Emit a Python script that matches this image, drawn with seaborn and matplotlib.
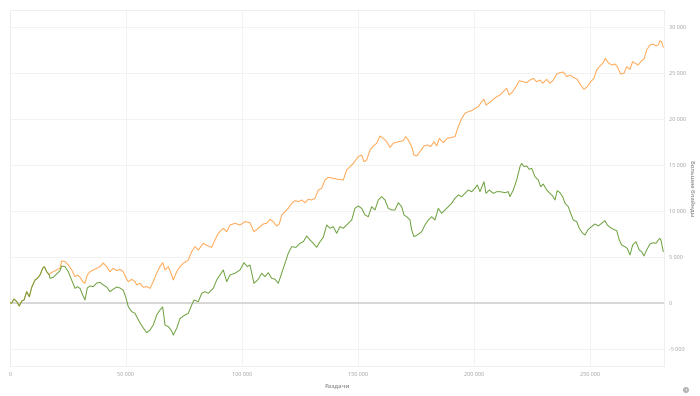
import matplotlib
matplotlib.use("Agg")
import matplotlib.pyplot as plt
from matplotlib.ticker import FuncFormatter
import numpy as np
import pandas as pd
import seaborn as sns

# hands played vs. won big blinds, two curves that start together
start_hands = [0, 730, 1720, 2890, 4010, 5040, 6030, 7200, 8320, 9350, 10780,
               11770, 12930, 14090, 14780, 15820, 16940]
start_bb = [0, 0, 430, 150, -330, 200, 330, 1230, 680, 1700, 2500,
            2680, 3040, 3770, 3950, 3400, 3040]

orange_hands = [17240, 18660, 20130, 21550, 22280, 23710, 25130, 26590, 28020, 29010,
                30170, 31330, 32330, 33320, 34480, 35900, 37370, 38790, 40210, 41680,
                43100, 44520, 45990, 47410, 48830, 50000, 50990, 52450, 53880, 54610,
                56030, 57450, 58920, 60340, 61770, 63230, 64650, 65820, 66810, 68230,
                69700, 70390, 71850, 73270, 74700, 76850, 78320, 79740, 81160, 83320,
                85470, 86940, 88360, 89780, 91940, 93400, 94820, 96980, 99130, 101290,
                103440, 105160, 107020, 109170, 110640, 112060, 113480, 114950, 116070, 117110,
                118530, 119950, 121420, 122840, 124260, 125730, 127150, 128570, 130040, 131460,
                132880, 134350, 135770, 137190, 139350, 141500, 143660, 145120, 147970, 150120,
                151590, 152580, 153740, 155170, 156590, 158060, 159480, 160900, 162370, 163790,
                165210, 167370, 169520, 170560, 171680, 173140, 174130, 175300, 176720, 178440,
                179870, 181330, 182750, 183920, 185040, 186760, 188490, 190380, 191800, 193230,
                194690, 196110, 197540, 199000, 200420, 201850, 203310, 204300, 205170, 206590,
                208310, 209780, 211200, 212620, 214090, 215210, 216670, 218090, 219520, 221240,
                222710, 224130, 225550, 227020, 228440, 229600, 231330, 232750, 234170, 235640,
                237060, 238480, 239950, 241370, 242790, 244520, 245980, 247400, 248830, 250290,
                251710, 252880, 254300, 255720, 256580, 257880, 259340, 260760, 261760, 263220,
                264630, 265800, 267220, 268390, 269380, 270800, 272270, 273260, 274420, 275840,
                277270, 278430, 279420, 280150, 280890, 281580]
orange_bb = [3220, 3400, 3590, 3770, 4570, 4500, 4130, 3590, 2860, 3040,
             2800, 2320, 2140, 3040, 3400, 3590, 3770, 3950, 4350, 3950,
             3400, 3770, 3520, 3660, 3400, 2720, 2320, 2570, 2320, 1960,
             2140, 1700, 1780, 1590, 2320, 3260, 3950, 4380, 3590, 3950,
             3040, 2500, 3400, 3950, 4310, 4670, 5580, 6120, 5760, 6490,
             6200, 6050, 6850, 7580, 8120, 7750, 8480, 8660, 8480, 8840,
             8730, 7750, 8120, 8590, 8660, 9100, 8840, 8370, 8590, 9570,
             9920, 10290, 10840, 11120, 11010, 11200, 10900, 11270, 11200, 11380,
             12280, 12470, 13370, 13660, 13550, 13440, 13370, 14460, 15180, 15910,
             16090, 15360, 15540, 16630, 17070, 17360, 18150, 17900, 17530, 16920,
             17360, 17530, 17640, 18080, 17720, 17000, 16090, 15980, 16450, 17070,
             17180, 17000, 17530, 17070, 17900, 17430, 17900, 18010, 18080, 19160,
             20070, 20620, 20800, 20910, 21160, 21340, 21880, 22140, 21520, 21770,
             22140, 22430, 22610, 22970, 23340, 22610, 22970, 23510, 24160, 24050,
             23950, 24240, 24420, 24050, 24240, 23880, 24310, 23880, 24240, 24890,
             25040, 25110, 24600, 24780, 24530, 24310, 23700, 23230, 23510, 24050,
             24420, 25330, 25760, 26120, 26600, 26120, 25870, 25980, 25690, 24890,
             24960, 25690, 25400, 26240, 26060, 25870, 26340, 26490, 27500, 28040,
             28150, 27940, 28040, 28510, 28400, 27790]

green_hands = [17240, 18660, 20130, 21550, 22280, 23710, 25130, 26590, 28020, 29010,
               30170, 31330, 32330, 33320, 34480, 35900, 37370, 38790, 40210, 41680,
               43100, 44520, 45990, 47410, 48830, 50000, 50990, 52450, 53880, 54610,
               56030, 57450, 58920, 60340, 61770, 63230, 64650, 65820, 66810, 68230,
               69700, 70390, 71850, 73270, 74700, 76850, 78320, 79310, 81160, 82630,
               84050, 85470, 87630, 89090, 90510, 91940, 93400, 94820, 96980, 99130,
               100860, 102280, 103440, 105160, 107020, 108490, 109910, 111330, 112800, 114220,
               115640, 117110, 118530, 119950, 121420, 123270, 125000, 126420, 127890, 129310,
               130730, 132190, 133620, 135040, 136510, 137930, 139350, 140810, 142230, 143660,
               145120, 147280, 148700, 150120, 151590, 153010, 154430, 155900, 157320, 158740,
               160210, 161630, 163050, 164520, 165940, 167370, 168830, 169820, 170990, 172410,
               173140, 174130, 175550, 177450, 178870, 180300, 181760, 183180, 184610, 186070,
               187500, 188920, 190380, 191800, 193230, 194690, 196110, 197540, 199000, 200420,
               201420, 202580, 204300, 205170, 206590, 208310, 209780, 211200, 213350, 214780,
               215500, 216930, 218400, 219820, 220550, 221540, 222710, 223830, 224860, 226290,
               227710, 228740, 229860, 231330, 232750, 233920, 234900, 235890, 237060, 238220,
               239210, 240630, 241660, 242790, 244260, 245380, 246850, 247840, 249260, 250730,
               252150, 253570, 255040, 256460, 257450, 258620, 260040, 261510, 262630, 263650,
               265070, 266070, 267240, 268390, 269810, 271240, 272270, 273260, 274420, 275840,
               277270, 278430, 280020, 280600, 281580]
green_bb = [2680, 2790, 3150, 3510, 4020, 3950, 3400, 2500, 1590, 1770,
            1590, 870, 330, 1630, 1850, 1770, 2170, 2240, 1960, 1740,
            1230, 1500, 1740, 1630, 1380, 540, -400, -940, -1120, -1490,
            -2170, -2720, -3230, -2940, -2390, -1300, -760, -430, -2390, -2570,
            -3050, -3480, -2750, -1700, -1410, -1120, -220, 330, 140, 1050,
            1230, 1050, 1600, 2500, 3040, 3590, 2320, 3040, 3230, 3590,
            4380, 3950, 4130, 2140, 2580, 3230, 2860, 3300, 2680, 2580,
            2140, 3230, 4310, 5400, 6120, 6050, 6490, 6660, 7280, 6850,
            6490, 6050, 6660, 7140, 8480, 8120, 8300, 7580, 8300, 8120,
            8480, 9020, 10290, 10540, 10290, 9570, 9380, 10470, 10110, 11200,
            11560, 11200, 10290, 10110, 10110, 10900, 10470, 9570, 9380, 9020,
            7940, 7210, 7390, 7750, 8480, 9020, 9380, 9020, 10290, 9750,
            10110, 10470, 10840, 11380, 11740, 11560, 11920, 12280, 12100, 12470,
            12830, 12100, 13180, 11920, 12280, 11920, 12100, 12100, 11990, 12100,
            11560, 12280, 13370, 14820, 15180, 14820, 14890, 14530, 14640, 13730,
            13370, 12640, 12930, 12280, 11920, 11630, 11200, 12210, 11990, 11560,
            10840, 10470, 9750, 9020, 8840, 8120, 7580, 7390, 8010, 8300,
            8590, 8370, 8660, 8950, 8480, 8230, 8010, 7860, 6850, 6300,
            6120, 5940, 5220, 6300, 6660, 5760, 5580, 5110, 5760, 6410,
            6550, 6490, 7030, 6850, 5580]

x_ticks = [0, 50000, 100000, 150000, 200000, 250000]
y_ticks = [-5000, 0, 5000, 10000, 15000, 20000, 25000, 30000]

df = pd.concat([
    pd.DataFrame({"hands": start_hands + orange_hands, "bb": start_bb + orange_bb, "line": "total"}),
    pd.DataFrame({"hands": start_hands + green_hands, "bb": start_bb + green_bb, "line": "showdown"}),
])

sns.set_theme(style="white")
plt.rcParams['font.family'] = ['Open Sans', 'DejaVu Sans']

fig = plt.figure(figsize=(7, 3.96), dpi=100)
ax = fig.add_axes([10 / 700, 1 - 366 / 396, 654 / 700, 356 / 396])

ax.axhline(0, color="#d2d2d2", lw=1.2, zorder=1)
sns.lineplot(data=df, x="hands", y="bb", hue="line", estimator=None, sort=False,
             palette={"total": "#ffa54f", "showdown": "#6a9f3a"}, linewidth=0.7,
             legend=False, ax=ax, zorder=3)

ax.set_xlim(0, 281900)
ax.set_ylim(-6850, 31850)
ax.set_xticks(x_ticks)
ax.set_yticks(y_ticks)
fmt = FuncFormatter(lambda v, p: f"{int(v):,}".replace(",", " "))
ax.xaxis.set_major_formatter(fmt)
ax.yaxis.set_major_formatter(fmt)
ax.yaxis.tick_right()
ax.tick_params(axis="both", length=0, labelsize=4, labelcolor="#a0a0a0")
ax.tick_params(axis="x", pad=4)
ax.tick_params(axis="y", pad=3.5)
for lab in ax.get_yticklabels():
    lab.set_horizontalalignment("left")

ax.grid(True, color="#f0f0f0", lw=0.6)
for s in ax.spines.values():
    s.set_color("#ececec")
    s.set_linewidth(0.6)

ax.set_xlabel("Раздачи", fontsize=4.3, color="#8a8a8a", fontweight="semibold", labelpad=5)
ax.set_ylabel("")
fig.text(692 / 700, 1 - 188 / 396, "Большие блайнды", fontsize=4.3, color="#8a8a8a",
         fontweight="semibold", rotation=270, ha="center", va="center")

fig.text(686 / 700, 1 - 390 / 396, "i", fontsize=3, color="white", ha="center", va="center",
         fontweight="bold",
         bbox=dict(boxstyle="circle,pad=0.25", fc="#b5b5b5", ec="none"))

fig.savefig("out.png", dpi=100)
